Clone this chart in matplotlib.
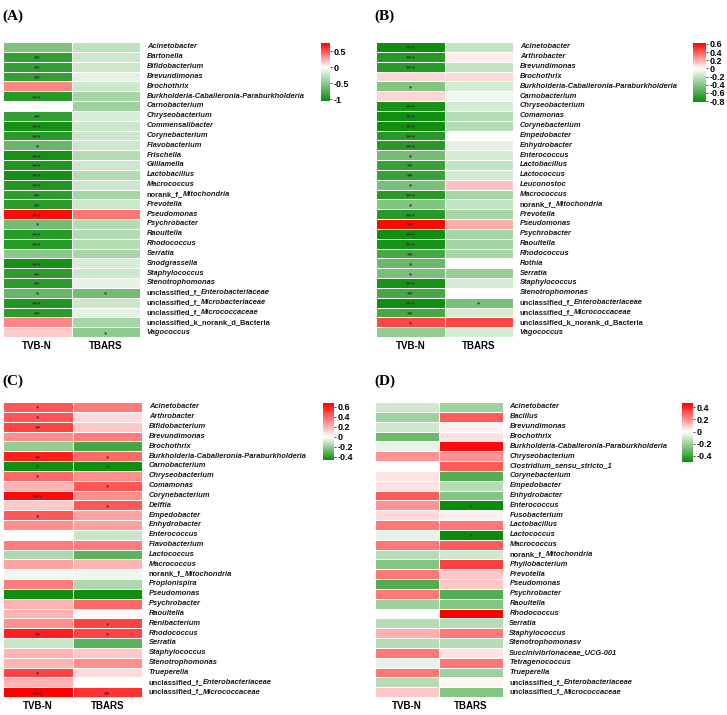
import numpy as np
import matplotlib
matplotlib.use("Agg")
import matplotlib.pyplot as plt
from matplotlib.colors import LinearSegmentedColormap, Normalize

# ------------------------------------------------------------------
# data: correlation of genera with TVB-N / TBARS
# ------------------------------------------------------------------
genera_a = ["Acinetobacter", "Bartonella", "Bifidobacterium", "Brevundimonas", "Brochothrix",
            "Burkholderia-Caballeronia-Paraburkholderia", "Carnobacterium", "Chryseobacterium",
            "Commensalibacter", "Corynebacterium", "Flavobacterium", "Frischella", "Gilliamella",
            "Lactobacillus", "Macrococcus", "norank_f_Mitochondria", "Prevotella", "Pseudomonas",
            "Psychrobacter", "Raoultella", "Rhodococcus", "Serratia", "Snodgrassella",
            "Staphylococcus", "Stenotrophomonas", "unclassified_f_Enterobacteriaceae",
            "unclassified_f_Microbacteriaceae", "unclassified_f_Micrococcaceae",
            "unclassified_k_norank_d_Bacteria", "Vagococcus"]
tvbn_a = [-0.55, -0.88, -0.88, -0.88, 0.35, -0.92, 0.0, -0.88, -1.0, -0.92, -0.65, -1.0, -0.95,
          -1.0, -0.95, -0.9, -0.9, 0.72, -0.6, -0.92, -0.92, -0.5, -1.0, -0.9, -0.9,
          -0.65, -0.95, -0.9, 0.35, 0.15]
tbars_a = [-0.28, -0.22, -0.22, -0.12, -0.22, -0.38, -0.42, -0.17, -0.22, -0.22, -0.22, -0.32,
           -0.22, -0.32, -0.22, -0.38, -0.22, 0.4, -0.32, -0.32, -0.32, -0.38, -0.17, -0.22,
           -0.12, -0.6, -0.22, -0.12, -0.38, -0.48]
sig_tvbn_a = ["", "**", "**", "**", "", "***", "", "**", "***", "***", "*", "***", "***",
              "***", "***", "**", "**", "***", "*", "***", "***", "", "***", "**", "**",
              "*", "***", "**", "", ""]
sig_tbars_a = [""] * 25 + ["*", "", "", "", "*"]

genera_b = ["Acinetobacter", "Arthrobacter", "Brevundimonas", "Brochothrix",
            "Burkholderia-Caballeronia-Paraburkholderia", "Carnobacterium", "Chryseobacterium",
            "Comamonas", "Corynebacterium", "Empedobacter", "Enhydrobacter", "Enterococcus",
            "Lactobacillus", "Lactococcus", "Leuconostoc", "Macrococcus", "norank_f_Mitochondria",
            "Prevotella", "Pseudomonas", "Psychrobacter", "Raoultella", "Rhodococcus", "Rothia",
            "Serratia", "Staphylococcus", "Stenotrophomonas", "unclassified_f_Enterobacteriaceae",
            "unclassified_f_Micrococcaceae", "unclassified_k_norank_d_Bacteria", "Vagococcus"]
tvbn_b = [-0.8, -0.72, -0.72, 0.1, -0.42, 0.1, -0.77, -0.8, -0.8, -0.72, -0.72, -0.47, -0.67,
          -0.67, -0.45, -0.72, -0.42, -0.72, 0.6, -0.8, -0.77, -0.62, -0.5, -0.45, -0.77, -0.62,
          -0.8, -0.62, 0.45, -0.37]
tbars_b = [-0.2, 0.05, -0.2, 0.1, -0.15, -0.05, -0.15, -0.25, -0.25, -0.02, -0.1, -0.15,
           -0.2, -0.15, 0.15, -0.3, -0.2, -0.3, 0.2, -0.3, -0.3, -0.3, 0.0, -0.35, -0.15,
           0.0, -0.45, -0.15, 0.45, -0.15]
sig_tvbn_b = ["***", "***", "***", "", "*", "", "***", "***", "***", "***", "***", "*", "**",
              "**", "*", "***", "*", "***", "**", "***", "***", "**", "*", "*", "***", "**",
              "***", "**", "*", ""]
sig_tbars_b = [""] * 26 + ["*", "", "", ""]

genera_c = ["Acinetobacter", "Arthrobacter", "Bifidobacterium", "Brevundimonas", "Brochothrix",
            "Burkholderia-Caballeronia-Paraburkholderia", "Carnobacterium", "Chryseobacterium",
            "Comamonas", "Corynebacterium", "Delftia", "Empedobacter", "Enhydrobacter",
            "Enterococcus", "Flavobacterium", "Lactococcus", "Macrococcus", "norank_f_Mitochondria",
            "Propionispira", "Pseudomonas", "Psychrobacter", "Raoultella", "Renibacterium",
            "Rhodococcus", "Serratia", "Staphylococcus", "Stenotrophomonas", "Trueperella",
            "unclassified_f_Enterobacteriaceae", "unclassified_f_Micrococcaceae"]
tvbn_c = [0.45, 0.45, 0.5, 0.3, -0.2, 0.6, -0.45, 0.4, 0.2, 0.65, 0.15, 0.45, 0.3, 0.0,
          0.35, -0.15, 0.25, -0.03, 0.35, -0.45, 0.2, 0.2, 0.3, 0.6, -0.1, 0.2, 0.2, 0.5,
          0.2, 0.68]
tbars_c = [0.35, 0.1, 0.15, 0.35, -0.35, 0.4, -0.45, 0.3, 0.45, 0.3, 0.45, 0.25, 0.25,
           -0.1, 0.35, -0.3, 0.2, -0.03, -0.15, -0.45, 0.4, 0.02, 0.5, 0.5, -0.3, 0.15,
           0.3, 0.1, 0.0, 0.55]
sig_tvbn_c = ["*", "*", "**", "", "", "**", "*", "*", "", "***", "", "*", "", "", "", "",
              "", "", "", "", "", "", "", "**", "", "", "", "*", "", "***"]
sig_tbars_c = ["", "", "", "", "", "*", "*", "", "*", "", "*", "", "", "", "", "", "", "",
               "", "", "", "", "*", "*", "", "", "", "", "", "**"]

genera_d = ["Acinetobacter", "Bacillus", "Brevundimonas", "Brochothrix",
            "Burkholderia-Caballeronia-Paraburkholderia", "Chryseobacterium",
            "Clostridium_sensu_stricto_1", "Corynebacterium", "Empedobacter", "Enhydrobacter",
            "Enterococcus", "Fusobacterium", "Lactobacillus", "Lactococcus", "Macrococcus",
            "norank_f_Mitochondria", "Phyllobacterium", "Prevotella", "Pseudomonas",
            "Psychrobacter", "Raoultella", "Rhodococcus", "Serratia", "Staphylococcus",
            "Stenotrophomonasv", "Succinivibrionaceae_UCG-001", "Tetragenococcus", "Trueperella",
            "unclassified_f_Enterobacteriaceae", "unclassified_f_Micrococcaceae"]
tvbn_d = [-0.1, -0.2, -0.1, -0.3, -0.05, 0.2, 0.0, 0.05, 0.05, 0.3, 0.2, 0.07, 0.25, -0.05,
          0.25, -0.15, -0.25, 0.25, -0.35, 0.25, -0.2, 0.0, -0.15, 0.15, -0.15, 0.25, -0.05,
          0.25, -0.15, 0.1]
tbars_d = [-0.2, 0.3, 0.03, 0.05, 0.45, 0.2, 0.3, -0.35, -0.15, -0.25, -0.5, 0.03, 0.25,
           -0.5, 0.3, -0.1, 0.35, 0.1, 0.1, -0.35, -0.25, 0.47, -0.15, 0.25, -0.15, 0.05,
           0.25, -0.2, 0.02, -0.25]
sig_tvbn_d = [""] * 30
sig_tbars_d = [""] * 10 + ["*", "", "", "*"] + [""] * 16

columns = ["TVB-N", "TBARS"]

# ------------------------------------------------------------------
# style
# ------------------------------------------------------------------
W, H = 727, 715
fig = plt.figure(figsize=(W / 100, H / 100), dpi=100)
sans = "Liberation Sans"
green = "#0a8c0a"
red = "#ff0000"


def make_cmap(vmin, vmax):
    p = (0 - vmin) / (vmax - vmin)
    return LinearSegmentedColormap.from_list("gwr", [(0, green), (p, "white"), (1, red)])


def px_box(x0, y0, x1, y1):
    return [x0 / W, 1 - y1 / H, (x1 - x0) / W, (y1 - y0) / H]


def draw_label(ax, y, name, x=1.05):
    trans = ax.get_yaxis_transform()
    kw = dict(fontsize=5.4, fontfamily=sans, fontweight="bold", color="#1a1a1a")
    if name.startswith("unclassified_k_"):
        ax.text(x, y, name, transform=trans, va="center", ha="left", **kw)
        return
    prefix = ""
    for pre in ["norank_f_", "unclassified_f_"]:
        if name.startswith(pre):
            prefix = pre
            name = name[len(pre):]
    if prefix:
        t = ax.text(x, y, prefix, transform=trans, va="center", ha="left", **kw)
        ax.annotate(name, xy=(1, 0), xycoords=t, va="bottom", ha="left", style="italic", **kw)
    else:
        ax.text(x, y, name, transform=trans, va="center", ha="left", style="italic", **kw)


def draw_panel(tag, genera, tvbn, tbars, sig1, sig2, vmin, vmax, ticks, heat_px, cbar_px, tag_px):
    ax = fig.add_axes(px_box(*heat_px))
    vals = np.array([tvbn, tbars]).T
    norm = Normalize(vmin=vmin, vmax=vmax)
    mesh = ax.pcolormesh(vals, cmap=make_cmap(vmin, vmax), norm=norm,
                         edgecolor="white", linewidth=0.4)
    n = len(genera)
    ax.set_xlim(0, 2)
    ax.set_ylim(n, 0)
    for s in ax.spines.values():
        s.set_visible(False)
    ax.set_yticks([])
    ax.set_xticks([0.5, 1.5])
    ax.set_xticklabels(columns, fontsize=7, fontweight="bold", fontfamily=sans)
    ax.tick_params(axis="x", length=0, pad=3)

    for i, g in enumerate(genera):
        draw_label(ax, i + 0.5, g)
        for j, s in enumerate([sig1[i], sig2[i]]):
            if s:
                ax.text(j + 0.5, i + 0.62, s, ha="center", va="center", fontsize=4.5,
                        color="#333333", fontweight="bold")

    cax = fig.add_axes(px_box(*cbar_px))
    cb = fig.colorbar(mesh, cax=cax, ticks=ticks)
    cb.outline.set_visible(False)
    cb.ax.set_yticklabels([("%g" % t) for t in ticks], fontsize=6.5, fontweight="bold",
                          fontfamily=sans)
    cb.ax.tick_params(length=1.5, width=0.5, pad=1)

    fig.text(tag_px[0] / W, 1 - tag_px[1] / H, tag, fontsize=11, fontweight="bold",
             fontfamily="Liberation Serif", va="center", ha="left")


draw_panel("(A)", genera_a, tvbn_a, tbars_a, sig_tvbn_a, sig_tbars_a, -1.05, 0.75,
           [0.5, 0, -0.5, -1], (3, 42, 140, 337), (321, 43, 330, 101), (2, 16))
draw_panel("(B)", genera_b, tvbn_b, tbars_b, sig_tvbn_b, sig_tbars_b, -0.82, 0.62,
           [0.6, 0.4, 0.2, 0, -0.2, -0.4, -0.6, -0.8], (376, 42, 513, 337), (693, 43, 706, 102),
           (374, 16))
draw_panel("(C)", genera_c, tvbn_c, tbars_c, sig_tvbn_c, sig_tbars_c, -0.46, 0.68,
           [0.6, 0.4, 0.2, 0, -0.2, -0.4], (3, 402, 142, 697), (323, 403, 334, 460), (2, 381))
draw_panel("(D)", genera_d, tvbn_d, tbars_d, sig_tvbn_d, sig_tbars_d, -0.5, 0.47,
           [0.4, 0.2, 0, -0.2, -0.4], (375, 402, 503, 697), (682, 403, 693, 462), (374, 381))

plt.savefig("out.png", dpi=100)
